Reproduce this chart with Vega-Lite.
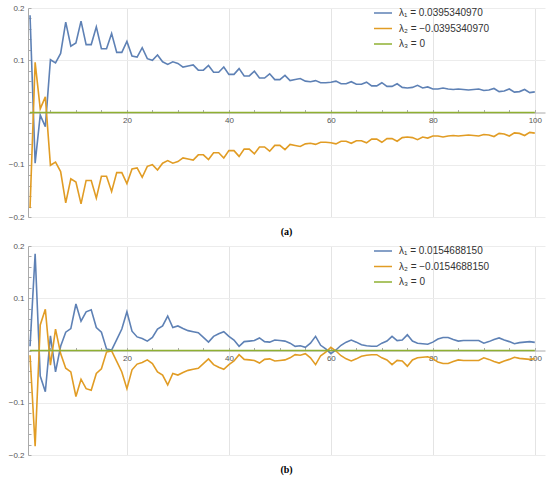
{
"$schema":"https://vega.github.io/schema/vega-lite/v6.json",
"padding":{"left":8,"top":3,"right":3,"bottom":5},
"background":"white",
"config":{"view":{"stroke":null},
 "axis":{"labelFont":"Liberation Sans","labelFontSize":8,"labelColor":"#555555","domainColor":"#aaaaaa","tickColor":"#aaaaaa","labelFlush":false,"labelOverlap":false,"title":null},
 "legend":{"labelFont":"Liberation Sans","labelFontSize":10,"labelColor":"#333333","symbolType":"stroke","symbolSize":324,"symbolStrokeWidth":1.5,"rowPadding":0.5,"labelOffset":6,"orient":"none","legendX":345,"legendY":-5},
 "title":{"font":"Liberation Serif","fontSize":10,"fontWeight":"bold","color":"#000000","orient":"bottom","offset":6}
},
"datasets":{
"a":[
{"x":1,"l1":0.186,"l2":-0.183,"l3":0},{"x":2,"l1":-0.097,"l2":0.096,"l3":0},{"x":3,"l1":-0.005,"l2":0.007,"l3":0},{"x":4,"l1":-0.027,"l2":0.030,"l3":0},{"x":5,"l1":0.101,"l2":-0.101,"l3":0},
{"x":6,"l1":0.095,"l2":-0.095,"l3":0},{"x":7,"l1":0.113,"l2":-0.113,"l3":0},{"x":8,"l1":0.173,"l2":-0.173,"l3":0},{"x":9,"l1":0.127,"l2":-0.127,"l3":0},{"x":10,"l1":0.133,"l2":-0.133,"l3":0},
{"x":11,"l1":0.175,"l2":-0.175,"l3":0},{"x":12,"l1":0.130,"l2":-0.130,"l3":0},{"x":13,"l1":0.130,"l2":-0.130,"l3":0},{"x":14,"l1":0.164,"l2":-0.164,"l3":0},{"x":15,"l1":0.122,"l2":-0.122,"l3":0},
{"x":16,"l1":0.122,"l2":-0.122,"l3":0},{"x":17,"l1":0.151,"l2":-0.151,"l3":0},{"x":18,"l1":0.115,"l2":-0.115,"l3":0},{"x":19,"l1":0.115,"l2":-0.115,"l3":0},{"x":20,"l1":0.136,"l2":-0.136,"l3":0},
{"x":21,"l1":0.108,"l2":-0.108,"l3":0},{"x":22,"l1":0.106,"l2":-0.106,"l3":0},{"x":23,"l1":0.124,"l2":-0.124,"l3":0},{"x":24,"l1":0.103,"l2":-0.103,"l3":0},{"x":25,"l1":0.100,"l2":-0.100,"l3":0},
{"x":26,"l1":0.110,"l2":-0.110,"l3":0},{"x":27,"l1":0.097,"l2":-0.097,"l3":0},{"x":28,"l1":0.092,"l2":-0.092,"l3":0},{"x":29,"l1":0.097,"l2":-0.097,"l3":0},{"x":30,"l1":0.094,"l2":-0.094,"l3":0},
{"x":31,"l1":0.087,"l2":-0.087,"l3":0},{"x":32,"l1":0.089,"l2":-0.089,"l3":0},{"x":33,"l1":0.091,"l2":-0.091,"l3":0},{"x":34,"l1":0.081,"l2":-0.081,"l3":0},{"x":35,"l1":0.081,"l2":-0.081,"l3":0},
{"x":36,"l1":0.090,"l2":-0.090,"l3":0},{"x":37,"l1":0.077,"l2":-0.077,"l3":0},{"x":38,"l1":0.077,"l2":-0.077,"l3":0},{"x":39,"l1":0.087,"l2":-0.087,"l3":0},{"x":40,"l1":0.073,"l2":-0.073,"l3":0},
{"x":41,"l1":0.073,"l2":-0.073,"l3":0},{"x":42,"l1":0.084,"l2":-0.084,"l3":0},{"x":43,"l1":0.070,"l2":-0.070,"l3":0},{"x":44,"l1":0.070,"l2":-0.070,"l3":0},{"x":45,"l1":0.079,"l2":-0.079,"l3":0},
{"x":46,"l1":0.066,"l2":-0.066,"l3":0},{"x":47,"l1":0.066,"l2":-0.066,"l3":0},{"x":48,"l1":0.074,"l2":-0.074,"l3":0},{"x":49,"l1":0.063,"l2":-0.063,"l3":0},{"x":50,"l1":0.063,"l2":-0.063,"l3":0},
{"x":51,"l1":0.071,"l2":-0.071,"l3":0},{"x":52,"l1":0.061,"l2":-0.061,"l3":0},{"x":53,"l1":0.063,"l2":-0.063,"l3":0},{"x":54,"l1":0.065,"l2":-0.065,"l3":0},{"x":55,"l1":0.060,"l2":-0.060,"l3":0},
{"x":56,"l1":0.059,"l2":-0.059,"l3":0},{"x":57,"l1":0.061,"l2":-0.061,"l3":0},{"x":58,"l1":0.057,"l2":-0.057,"l3":0},{"x":59,"l1":0.057,"l2":-0.057,"l3":0},{"x":60,"l1":0.058,"l2":-0.058,"l3":0},
{"x":61,"l1":0.060,"l2":-0.060,"l3":0},{"x":62,"l1":0.055,"l2":-0.055,"l3":0},{"x":63,"l1":0.055,"l2":-0.055,"l3":0},{"x":64,"l1":0.059,"l2":-0.059,"l3":0},{"x":65,"l1":0.054,"l2":-0.054,"l3":0},
{"x":66,"l1":0.054,"l2":-0.054,"l3":0},{"x":67,"l1":0.058,"l2":-0.058,"l3":0},{"x":68,"l1":0.051,"l2":-0.051,"l3":0},{"x":69,"l1":0.051,"l2":-0.051,"l3":0},{"x":70,"l1":0.057,"l2":-0.057,"l3":0},
{"x":71,"l1":0.050,"l2":-0.050,"l3":0},{"x":72,"l1":0.050,"l2":-0.050,"l3":0},{"x":73,"l1":0.055,"l2":-0.055,"l3":0},{"x":74,"l1":0.048,"l2":-0.048,"l3":0},{"x":75,"l1":0.047,"l2":-0.047,"l3":0},
{"x":76,"l1":0.048,"l2":-0.048,"l3":0},{"x":77,"l1":0.052,"l2":-0.052,"l3":0},{"x":78,"l1":0.047,"l2":-0.047,"l3":0},{"x":79,"l1":0.049,"l2":-0.049,"l3":0},{"x":80,"l1":0.045,"l2":-0.045,"l3":0},
{"x":81,"l1":0.045,"l2":-0.045,"l3":0},{"x":82,"l1":0.047,"l2":-0.047,"l3":0},{"x":83,"l1":0.045,"l2":-0.045,"l3":0},{"x":84,"l1":0.044,"l2":-0.044,"l3":0},{"x":85,"l1":0.045,"l2":-0.045,"l3":0},
{"x":86,"l1":0.044,"l2":-0.044,"l3":0},{"x":87,"l1":0.043,"l2":-0.043,"l3":0},{"x":88,"l1":0.044,"l2":-0.044,"l3":0},{"x":89,"l1":0.045,"l2":-0.045,"l3":0},{"x":90,"l1":0.042,"l2":-0.042,"l3":0},
{"x":91,"l1":0.043,"l2":-0.043,"l3":0},{"x":92,"l1":0.046,"l2":-0.046,"l3":0},{"x":93,"l1":0.040,"l2":-0.040,"l3":0},{"x":94,"l1":0.041,"l2":-0.041,"l3":0},{"x":95,"l1":0.045,"l2":-0.045,"l3":0},
{"x":96,"l1":0.039,"l2":-0.039,"l3":0},{"x":97,"l1":0.040,"l2":-0.040,"l3":0},{"x":98,"l1":0.044,"l2":-0.044,"l3":0},{"x":99,"l1":0.038,"l2":-0.038,"l3":0},{"x":100,"l1":0.0395,"l2":-0.0395,"l3":0}
],
"b":[
{"x":1,"l1":0.008,"l2":-0.009,"l3":0},{"x":2,"l1":0.185,"l2":-0.183,"l3":0},{"x":3,"l1":-0.049,"l2":0.049,"l3":0},{"x":4,"l1":-0.079,"l2":0.079,"l3":0},{"x":5,"l1":0.028,"l2":-0.028,"l3":0},
{"x":6,"l1":-0.041,"l2":0.041,"l3":0},{"x":7,"l1":0.008,"l2":-0.006,"l3":0},{"x":8,"l1":0.035,"l2":-0.034,"l3":0},{"x":9,"l1":0.042,"l2":-0.041,"l3":0},{"x":10,"l1":0.089,"l2":-0.088,"l3":0},
{"x":11,"l1":0.056,"l2":-0.055,"l3":0},{"x":12,"l1":0.074,"l2":-0.073,"l3":0},{"x":13,"l1":0.078,"l2":-0.076,"l3":0},{"x":14,"l1":0.044,"l2":-0.044,"l3":0},{"x":15,"l1":0.035,"l2":-0.035,"l3":0},
{"x":16,"l1":0.003,"l2":-0.003,"l3":0},{"x":17,"l1":0.001,"l2":-0.001,"l3":0},{"x":18,"l1":0.021,"l2":-0.021,"l3":0},{"x":19,"l1":0.041,"l2":-0.041,"l3":0},{"x":20,"l1":0.074,"l2":-0.073,"l3":0},
{"x":21,"l1":0.037,"l2":-0.037,"l3":0},{"x":22,"l1":0.026,"l2":-0.026,"l3":0},{"x":23,"l1":0.023,"l2":-0.023,"l3":0},{"x":24,"l1":0.018,"l2":-0.018,"l3":0},{"x":25,"l1":0.025,"l2":-0.025,"l3":0},
{"x":26,"l1":0.041,"l2":-0.041,"l3":0},{"x":27,"l1":0.047,"l2":-0.047,"l3":0},{"x":28,"l1":0.066,"l2":-0.066,"l3":0},{"x":29,"l1":0.044,"l2":-0.044,"l3":0},{"x":30,"l1":0.047,"l2":-0.047,"l3":0},
{"x":31,"l1":0.042,"l2":-0.042,"l3":0},{"x":32,"l1":0.038,"l2":-0.038,"l3":0},{"x":33,"l1":0.036,"l2":-0.036,"l3":0},{"x":34,"l1":0.034,"l2":-0.034,"l3":0},{"x":35,"l1":0.025,"l2":-0.025,"l3":0},
{"x":36,"l1":0.016,"l2":-0.016,"l3":0},{"x":37,"l1":0.027,"l2":-0.027,"l3":0},{"x":38,"l1":0.032,"l2":-0.032,"l3":0},{"x":39,"l1":0.036,"l2":-0.036,"l3":0},{"x":40,"l1":0.027,"l2":-0.027,"l3":0},
{"x":41,"l1":0.020,"l2":-0.020,"l3":0},{"x":42,"l1":0.008,"l2":-0.008,"l3":0},{"x":43,"l1":0.017,"l2":-0.017,"l3":0},{"x":44,"l1":0.018,"l2":-0.018,"l3":0},{"x":45,"l1":0.019,"l2":-0.019,"l3":0},
{"x":46,"l1":0.024,"l2":-0.024,"l3":0},{"x":47,"l1":0.017,"l2":-0.017,"l3":0},{"x":48,"l1":0.016,"l2":-0.016,"l3":0},{"x":49,"l1":0.020,"l2":-0.020,"l3":0},{"x":50,"l1":0.019,"l2":-0.019,"l3":0},
{"x":51,"l1":0.018,"l2":-0.018,"l3":0},{"x":52,"l1":0.014,"l2":-0.014,"l3":0},{"x":53,"l1":0.008,"l2":-0.008,"l3":0},{"x":54,"l1":0.009,"l2":-0.009,"l3":0},{"x":55,"l1":0.006,"l2":-0.006,"l3":0},
{"x":56,"l1":0.014,"l2":-0.014,"l3":0},{"x":57,"l1":0.027,"l2":-0.027,"l3":0},{"x":58,"l1":0.010,"l2":-0.010,"l3":0},{"x":59,"l1":0.003,"l2":-0.003,"l3":0},{"x":60,"l1":-0.006,"l2":0.006,"l3":0},
{"x":61,"l1":0.001,"l2":-0.001,"l3":0},{"x":62,"l1":0.010,"l2":-0.010,"l3":0},{"x":63,"l1":0.016,"l2":-0.016,"l3":0},{"x":64,"l1":0.020,"l2":-0.020,"l3":0},{"x":65,"l1":0.016,"l2":-0.016,"l3":0},
{"x":66,"l1":0.011,"l2":-0.011,"l3":0},{"x":67,"l1":0.009,"l2":-0.009,"l3":0},{"x":68,"l1":0.008,"l2":-0.008,"l3":0},{"x":69,"l1":0.008,"l2":-0.008,"l3":0},{"x":70,"l1":0.014,"l2":-0.014,"l3":0},
{"x":71,"l1":0.018,"l2":-0.018,"l3":0},{"x":72,"l1":0.027,"l2":-0.027,"l3":0},{"x":73,"l1":0.019,"l2":-0.019,"l3":0},{"x":74,"l1":0.020,"l2":-0.020,"l3":0},{"x":75,"l1":0.030,"l2":-0.030,"l3":0},
{"x":76,"l1":0.018,"l2":-0.018,"l3":0},{"x":77,"l1":0.014,"l2":-0.014,"l3":0},{"x":78,"l1":0.013,"l2":-0.013,"l3":0},{"x":79,"l1":0.012,"l2":-0.012,"l3":0},{"x":80,"l1":0.016,"l2":-0.016,"l3":0},
{"x":81,"l1":0.022,"l2":-0.022,"l3":0},{"x":82,"l1":0.025,"l2":-0.025,"l3":0},{"x":83,"l1":0.025,"l2":-0.025,"l3":0},{"x":84,"l1":0.021,"l2":-0.021,"l3":0},{"x":85,"l1":0.018,"l2":-0.018,"l3":0},
{"x":86,"l1":0.019,"l2":-0.019,"l3":0},{"x":87,"l1":0.019,"l2":-0.019,"l3":0},{"x":88,"l1":0.019,"l2":-0.019,"l3":0},{"x":89,"l1":0.019,"l2":-0.019,"l3":0},{"x":90,"l1":0.014,"l2":-0.014,"l3":0},
{"x":91,"l1":0.017,"l2":-0.017,"l3":0},{"x":92,"l1":0.021,"l2":-0.021,"l3":0},{"x":93,"l1":0.024,"l2":-0.024,"l3":0},{"x":94,"l1":0.020,"l2":-0.020,"l3":0},{"x":95,"l1":0.017,"l2":-0.017,"l3":0},
{"x":96,"l1":0.013,"l2":-0.013,"l3":0},{"x":97,"l1":0.015,"l2":-0.015,"l3":0},{"x":98,"l1":0.016,"l2":-0.016,"l3":0},{"x":99,"l1":0.017,"l2":-0.017,"l3":0},{"x":100,"l1":0.0155,"l2":-0.0155,"l3":0}
]
},
"vconcat":[
{"width":517,"height":209,"data":{"name":"a"},
 "transform":[{"fold":["l1","l2","l3"],"as":["s","v"]}],
 "title":{"text":"(a)"},
 "mark":{"type":"line","strokeWidth":1.6},
 "encoding":{
  "x":{"field":"x","type":"quantitative","scale":{"domain":[0.6,102],"nice":false,"zero":false},
   "axis":{"orient":"bottom","offset":-104.5,"values":[5,10,15,20,25,30,35,40,45,50,55,60,65,70,75,80,85,90,95,100],
    "labelExpr":"datum.value % 20 == 0 ? datum.label : ''","tickSize":-3,"labelPadding":7,
    "grid":true,"gridColor":{"condition":{"test":"datum.value % 20 == 0","value":"#e4e4e4"},"value":"transparent"}}},
  "y":{"field":"v","type":"quantitative","scale":{"domain":[-0.2,0.2],"nice":false},
   "axis":{"values":[-0.2,-0.18,-0.16,-0.14,-0.12,-0.1,-0.08,-0.06,-0.04,-0.02,0,0.02,0.04,0.06,0.08,0.1,0.12,0.14,0.16,0.18,0.2],
    "labelExpr":"abs(datum.value) > 0.05 && abs(datum.value*10 - round(datum.value*10)) < 0.001 ? format(datum.value, '.1f') : ''",
    "tickSize":-3,"labelPadding":7,
    "grid":true,"gridColor":{"condition":{"test":"abs(datum.value) > 0.05 && abs(datum.value*10 - round(datum.value*10)) < 0.001","value":"#ececec"},"value":"transparent"}}},
  "color":{"field":"s","type":"nominal","scale":{"domain":["l1","l2","l3"],"range":["#5E81B5","#E19C24","#8FB032"]},
   "legend":{"title":null,"labelExpr":"datum.label == 'l1' ? 'λ₁ = 0.0395340970' : datum.label == 'l2' ? 'λ₂ = −0.0395340970' : 'λ₃ = 0'"}}
 }},
{"width":517,"height":209,"data":{"name":"b"},
 "transform":[{"fold":["l1","l2","l3"],"as":["s","v"]}],
 "title":{"text":"(b)"},
 "mark":{"type":"line","strokeWidth":1.6},
 "encoding":{
  "x":{"field":"x","type":"quantitative","scale":{"domain":[0.6,102],"nice":false,"zero":false},
   "axis":{"orient":"bottom","offset":-104.5,"values":[5,10,15,20,25,30,35,40,45,50,55,60,65,70,75,80,85,90,95,100],
    "labelExpr":"datum.value % 20 == 0 ? datum.label : ''","tickSize":-3,"labelPadding":7,
    "grid":true,"gridColor":{"condition":{"test":"datum.value % 20 == 0","value":"#e4e4e4"},"value":"transparent"}}},
  "y":{"field":"v","type":"quantitative","scale":{"domain":[-0.2,0.2],"nice":false},
   "axis":{"values":[-0.2,-0.18,-0.16,-0.14,-0.12,-0.1,-0.08,-0.06,-0.04,-0.02,0,0.02,0.04,0.06,0.08,0.1,0.12,0.14,0.16,0.18,0.2],
    "labelExpr":"abs(datum.value) > 0.05 && abs(datum.value*10 - round(datum.value*10)) < 0.001 ? format(datum.value, '.1f') : ''",
    "tickSize":-3,"labelPadding":7,
    "grid":true,"gridColor":{"condition":{"test":"abs(datum.value) > 0.05 && abs(datum.value*10 - round(datum.value*10)) < 0.001","value":"#ececec"},"value":"transparent"}}},
  "color":{"field":"s","type":"nominal","scale":{"domain":["l1","l2","l3"],"range":["#5E81B5","#E19C24","#8FB032"]},
   "legend":{"title":null,"labelExpr":"datum.label == 'l1' ? 'λ₁ = 0.0154688150' : datum.label == 'l2' ? 'λ₂ = −0.0154688150' : 'λ₃ = 0'"}}
 }}
],
"spacing":4,
"resolve":{"scale":{"color":"independent"}}
}
